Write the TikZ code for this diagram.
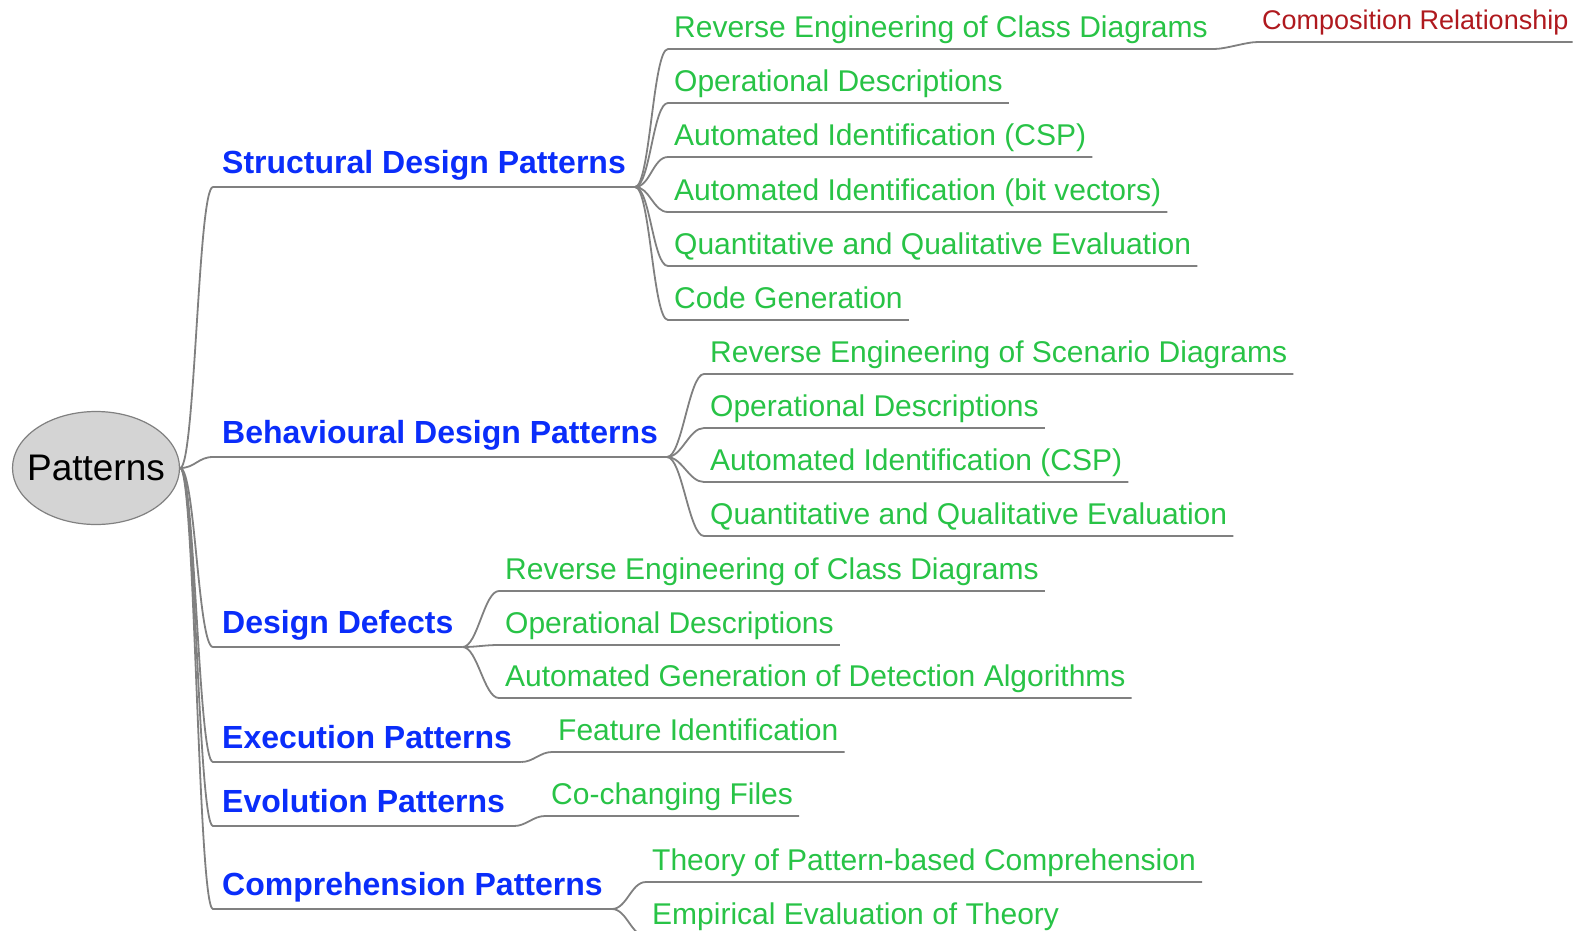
\documentclass[tikz,border=0pt]{standalone}
\usepackage{fontspec}
\setmainfont{Liberation Sans}
\usepackage{tikz}
\usetikzlibrary{shapes.geometric}

\definecolor{mmblue}{RGB}{10,45,250}
\definecolor{mmgreen}{RGB}{40,195,70}
\definecolor{mmred}{RGB}{175,25,30}
\definecolor{mmgray}{RGB}{128,128,128}
\definecolor{mmroot}{RGB}{212,212,212}

\begin{document}
\begin{tikzpicture}[x=1pt, y=-1pt,
        every node/.style = {inner ysep=0pt},
        topic/.style = {anchor=south west, text=mmblue, inner xsep=9pt,
            font=\bfseries\fontsize{32}{38}\selectfont, text height=26pt, text depth=13pt},
        leaf/.style = {anchor=south west, text=mmgreen, inner xsep=6pt,
            font=\fontsize{30}{36}\selectfont, text height=24pt, text depth=11pt},
        note/.style = {anchor=south west, text=mmred, inner xsep=4pt,
            font=\fontsize{27}{32}\selectfont, text height=21pt, text depth=12pt},
        link/.style = {draw=mmgray, line width=1.8pt}
    ]
    \useasboundingbox (0,0) rectangle (1587,930);

    % root
    \node[ellipse, draw=mmgray, line width=1.2pt, fill=mmroot, inner xsep=-11pt,
        minimum width=167pt, minimum height=113pt,
        font=\fontsize{37}{44}\selectfont] (root) at (96,468) {Patterns};

    % first level
    \node[topic] (sdp) at (213,187) {Structural Design Patterns};
    \node[topic] (bdp) at (213,457) {Behavioural Design Patterns};
    \node[topic] (dd) at (213,647) {Design Defects};
    \node[topic] (ep) at (213,762) {Execution Patterns};
    \node[topic] (evp) at (213,826) {Evolution Patterns};
    \node[topic] (cp) at (213,909) {Comprehension Patterns};

    % structural
    \node[leaf] (s1) at (668,49) {Reverse Engineering of Class Diagrams};
    \node[leaf] (s2) at (668,103) {Operational Descriptions};
    \node[leaf] (s3) at (668,157) {Automated Identification (CSP)};
    \node[leaf] (s4) at (668,212) {Automated Identification (bit vectors)};
    \node[leaf] (s5) at (668,266) {Quantitative and Qualitative Evaluation};
    \node[leaf] (s6) at (668,320) {Code Generation};
    \node[note] (s1a) at (1258,42) {Composition Relationship};

    % behavioural
    \node[leaf] (b1) at (704,374) {Reverse Engineering of Scenario Diagrams};
    \node[leaf] (b2) at (704,428) {Operational Descriptions};
    \node[leaf] (b3) at (704,482) {Automated Identification (CSP)};
    \node[leaf] (b4) at (704,536) {Quantitative and Qualitative Evaluation};

    % defects
    \node[leaf] (d1) at (499,591) {Reverse Engineering of Class Diagrams};
    \node[leaf] (d2) at (499,645) {Operational Descriptions};
    \node[leaf] (d3) at (499,698) {Automated Generation of Detection Algorithms};

    % execution, evolution, comprehension
    \node[leaf] (e1) at (552,752) {Feature Identification};
    \node[leaf] (v1) at (545,816) {Co-changing Files};
    \node[leaf] (c1) at (646,882) {Theory of Pattern-based Comprehension};
    \node[leaf] (c2) at (646,936) {Empirical Evaluation of Theory};

    % connectors
    \foreach \n in {sdp,bdp,dd,ep,evp,cp}
        \draw[link] (root.east) .. controls +(15,0) and +(-15,0) .. (\n.south west) -- (\n.south east);
    \foreach \i in {1,...,6}
        \draw[link] (sdp.south east) .. controls +(15,0) and +(-15,0) .. (s\i.south west) -- (s\i.south east);
    \foreach \i in {1,...,4}
        \draw[link] (bdp.south east) .. controls +(15,0) and +(-15,0) .. (b\i.south west) -- (b\i.south east);
    \foreach \i in {1,...,3}
        \draw[link] (dd.south east) .. controls +(15,0) and +(-15,0) .. (d\i.south west) -- (d\i.south east);
    \draw[link] (ep.south east) .. controls +(12,0) and +(-12,0) .. (e1.south west) -- (e1.south east);
    \draw[link] (evp.south east) .. controls +(12,0) and +(-12,0) .. (v1.south west) -- (v1.south east);
    \draw[link] (cp.south east) .. controls +(15,0) and +(-15,0) .. (c1.south west) -- (c1.south east);
    \draw[link] (cp.south east) .. controls +(15,0) and +(-15,0) .. (c2.south west) -- (c2.south east);
    \draw[link] (s1.south east) .. controls +(12,0) and +(-12,0) .. (s1a.south west) -- (s1a.south east);
\end{tikzpicture}
\end{document}
